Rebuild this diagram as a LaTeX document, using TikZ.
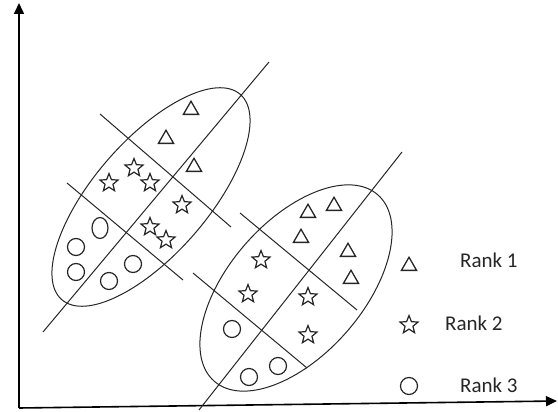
\documentclass[tikz,border=0pt]{standalone}
\usepackage{fontspec}
\setmainfont{Carlito}
\usetikzlibrary{shapes.geometric,arrows.meta}
\tikzset{
  axisline/.style={line width=1.6pt, draw=black, -{Triangle[length=11pt,width=10pt]}},
  thinline/.style={line width=1pt, draw=black!85},
  tri/.style={regular polygon, regular polygon sides=3, draw=black!85, line width=1.3pt, minimum size=17.5pt, inner sep=0pt},
  starmark/.style={star, star points=5, star point ratio=2.3, draw=black!85, line width=1.2pt, minimum size=19pt, inner sep=0pt},
  circmark/.style={circle, draw=black!85, line width=1.2pt, minimum size=17pt, inner sep=0pt},
  lbl/.style={anchor=base west, inner sep=0pt, font=\fontsize{21}{25}\selectfont, text=black!85}
}
\begin{document}
\begin{tikzpicture}[x=1pt,y=-1pt]
\useasboundingbox (0,0) rectangle (558,412);
% axes
\coordinate (o) at (19,408);
\coordinate (ytip) at (19,3);
\coordinate (xtip) at (557,401);
\draw[axisline] (o) -- (ytip);
\draw[axisline] (o) -- (xtip);
% left cluster
\draw[thinline, rotate around={49:(151,197)}] (151,197) ellipse [x radius=136, y radius=57];
\coordinate (lma) at (269,62); \coordinate (lmb) at (43,332);
\coordinate (lpa1) at (100,114); \coordinate (lpb1) at (231,227);
\coordinate (lpa2) at (67,183); \coordinate (lpb2) at (183,280);
\draw[thinline] (lma) -- (lmb);
\draw[thinline] (lpa1) -- (lpb1);
\draw[thinline] (lpa2) -- (lpb2);
% right cluster
\draw[thinline, rotate around={48.7:(296,288)}] (296,288) ellipse [x radius=124, y radius=67];
\coordinate (rma) at (402,152); \coordinate (rmb) at (199,410);
\coordinate (rpa1) at (240,213); \coordinate (rpb1) at (357,310);
\coordinate (rpa2) at (193,273); \coordinate (rpb2) at (307,368);
\draw[thinline] (rma) -- (rmb);
\draw[thinline] (rpa1) -- (rpb1);
\draw[thinline] (rpa2) -- (rpb2);
% left triangles
\node[tri] (lt1) at (191,110) {};
\node[tri] (lt2) at (166,139) {};
\node[tri] (lt3) at (194,167) {};
% left stars
\node[starmark] (ls1) at (134,168) {};
\node[starmark] (ls2) at (109,183) {};
\node[starmark] (ls3) at (150,183) {};
\node[starmark] (ls4) at (182,205) {};
\node[starmark] (ls5) at (150,227) {};
\node[starmark] (ls6) at (166,240) {};
% left circles
\node[ellipse, draw=black!85, line width=1.2pt, minimum width=16pt, minimum height=21pt, inner sep=0pt] (lc1) at (100,228) {};
\node[circmark] (lc2) at (76,247) {};
\node[circmark] (lc3) at (76,272) {};
\node[circmark] (lc4) at (109,281) {};
\node[circmark] (lc5) at (133,264) {};
% right triangles
\node[tri] (rt1) at (308,213) {};
\node[tri] (rt2) at (334,206) {};
\node[tri] (rt3) at (301,238) {};
\node[tri] (rt4) at (348,252) {};
\node[tri] (rt5) at (351,279) {};
% right stars
\node[starmark] (rs1) at (261,260) {};
\node[starmark] (rs2) at (248,294) {};
\node[starmark] (rs3) at (308,297) {};
\node[starmark] (rs4) at (308,335) {};
% right circles
\node[circmark] (rc1) at (232,329) {};
\node[circmark] (rc2) at (249,377) {};
\node[circmark] (rc3) at (278,366) {};
% legend
\node[tri] (kt) at (409,266) {};
\node[starmark] (ks) at (409,325) {};
\node[circmark] (kc) at (409,386) {};
\node[lbl] (k1) at (460,267) {Rank 1};
\node[lbl] (k2) at (445,330) {Rank 2};
\node[lbl] (k3) at (460,392) {Rank 3};
\end{tikzpicture}
\end{document}
